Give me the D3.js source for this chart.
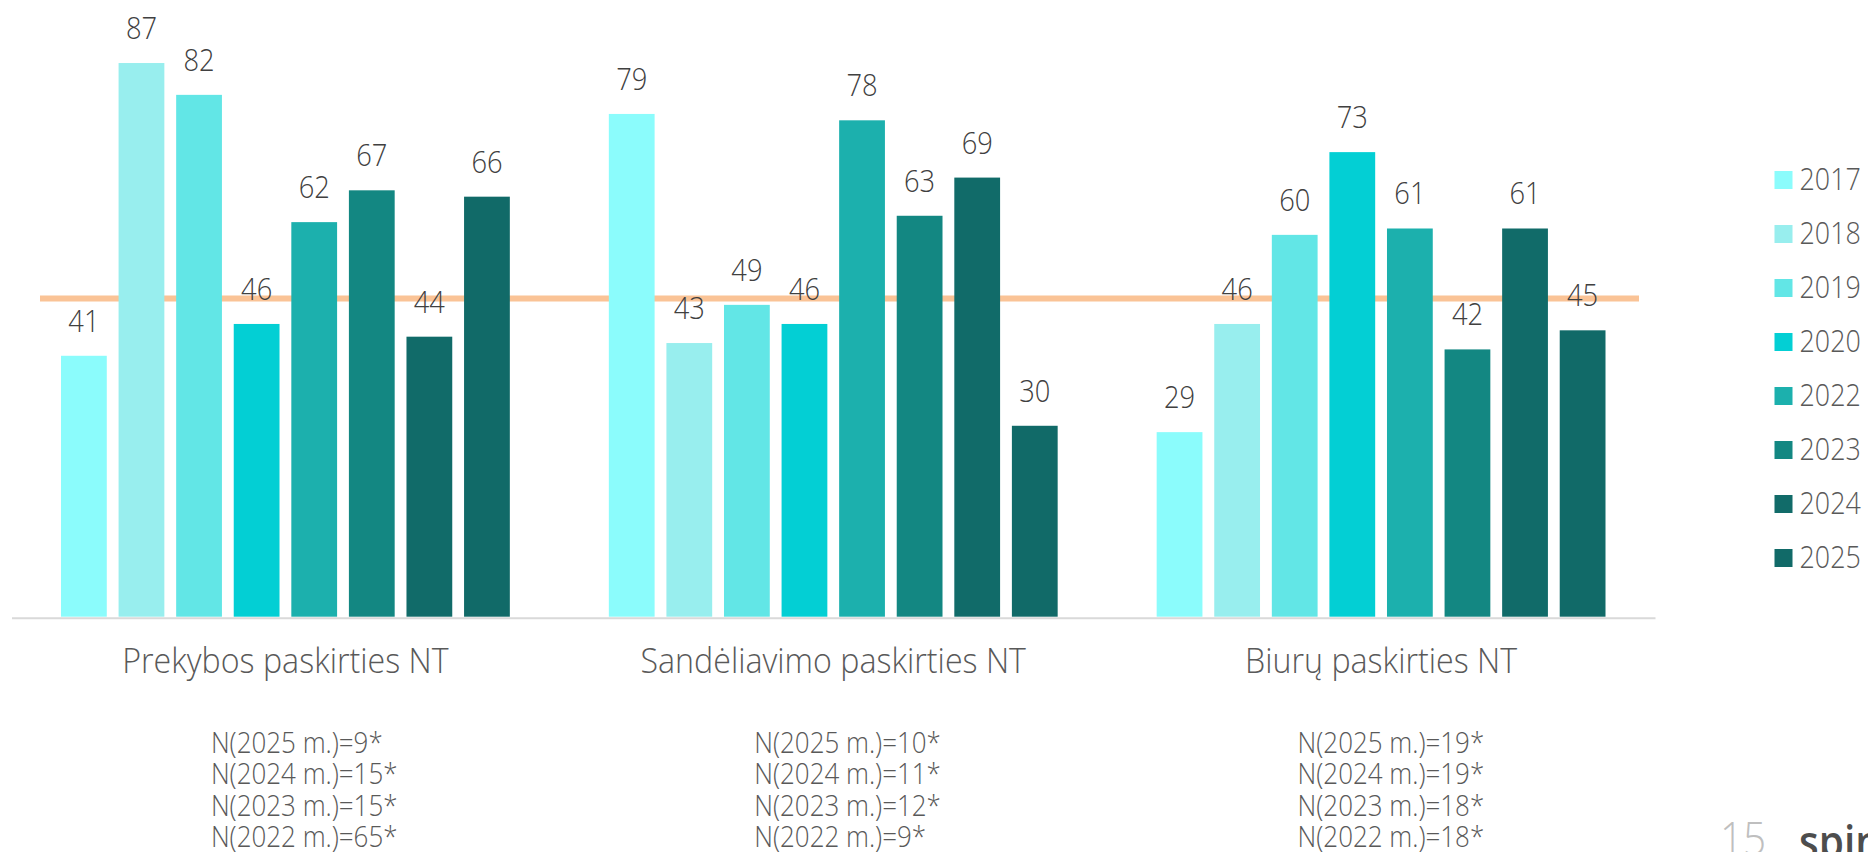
<!DOCTYPE html>
<html lang="lt">
<head>
    <meta charset="UTF-8">
    <title>NT paskirties grupės</title>
    <style>
        body {
            margin: 0;
            background: #fff;
            overflow: hidden;
        }
        svg {
            display: block;
            font-family: "Open Sans", "Noto Sans", sans-serif;
            font-weight: 300;
        }
    </style>
    <script src="https://cdn.jsdelivr.net/npm/d3@7"></script>
</head>
<body>
    <svg id="chart"></svg>

    <script>
        // data
        const groups = ["Prekybos paskirties NT", "Sandėliavimo paskirties NT", "Biurų paskirties NT"];
        const years = ["2017", "2018", "2019", "2020", "2022", "2023", "2024", "2025"];
        const values2017 = [41, 79, 29];
        const values2018 = [87, 43, 46];
        const values2019 = [82, 49, 60];
        const values2020 = [46, 46, 73];
        const values2022 = [62, 78, 61];
        const values2023 = [67, 63, 42];
        const values2024 = [44, 69, 61];
        const values2025 = [66, 30, 45];
        const notesPrekybos = ["N(2025 m.)=9*", "N(2024 m.)=15*", "N(2023 m.)=15*", "N(2022 m.)=65*"];
        const notesSandeliavimo = ["N(2025 m.)=10*", "N(2024 m.)=11*", "N(2023 m.)=12*", "N(2022 m.)=9*"];
        const notesBiuru = ["N(2025 m.)=19*", "N(2024 m.)=19*", "N(2023 m.)=18*", "N(2022 m.)=18*"];
        const referenceValue = 50;
        const pageNumber = "15";

        const seriesValues = [values2017, values2018, values2019, values2020,
                              values2022, values2023, values2024, values2025];
        const notes = [notesPrekybos, notesSandeliavimo, notesBiuru];
        const colors = ["#8bfcfc", "#98eeee", "#62e6e6", "#03cfd4",
                        "#1cb0ad", "#138782", "#116b69", "#116a68"];

        const width = 1868;
        const height = 852;
        const squeeze = 0.88;   // the slide text is a bit narrow

        const svg = d3.select("#chart")
            .attr("width", width)
            .attr("height", height);

        const x0 = d3.scaleBand()
            .domain(groups)
            .range([11.5, 1655]);

        const x1 = d3.scaleBand()
            .domain(years)
            .range([49.5, x0.bandwidth() - 49.5])
            .paddingInner(0.205);

        const y = d3.scaleLinear()
            .domain([0, 100])
            .range([616.7, -19.7]);

        const color = d3.scaleOrdinal().domain(years).range(colors);

        const rows = [];
        groups.forEach((g, gi) => {
            years.forEach((yr, yi) => {
                rows.push({group: g, year: yr, value: seriesValues[yi][gi]});
            });
        });

        // reference line sits behind the bars
        svg.append("line")
            .attr("x1", 40)
            .attr("x2", 1639)
            .attr("y1", y(referenceValue))
            .attr("y2", y(referenceValue))
            .attr("stroke", "#fac396")
            .attr("stroke-width", 6);

        svg.append("g")
            .selectAll("rect")
            .data(rows)
            .enter().append("rect")
            .attr("x", d => x0(d.group) + x1(d.year))
            .attr("y", d => y(d.value))
            .attr("width", x1.bandwidth())
            .attr("height", d => y(0) - y(d.value))
            .attr("fill", d => color(d.year));

        // baseline
        svg.append("g")
            .attr("transform", `translate(0,${y(0) + 1})`)
            .call(d3.axisBottom(x0).tickSize(0).tickFormat(""))
            .call(g => g.select(".domain").attr("stroke", "#d9d9d9").attr("stroke-width", 2));

        // value labels
        svg.append("g")
            .selectAll("text")
            .data(rows)
            .enter().append("text")
            .attr("transform", d => `translate(${x0(d.group) + x1(d.year) + x1.bandwidth() / 2},${y(d.value) - 24}) scale(${squeeze},1)`)
            .attr("text-anchor", "middle")
            .attr("font-size", 31)
            .attr("fill", "#404040")
            .text(d => d.value);

        // category names
        svg.append("g")
            .selectAll("text")
            .data(groups)
            .enter().append("text")
            .attr("transform", d => `translate(${x0(d) + x0.bandwidth() / 2},673) scale(0.92,1)`)
            .attr("text-anchor", "middle")
            .attr("font-size", 35)
            .attr("fill", "#595959")
            .text(d => d);

        // sample sizes under each category, one text block per group
        const noteShift = [-74.5, -79, -83.5];
        svg.append("g")
            .selectAll("text")
            .data(groups)
            .enter().append("text")
            .attr("transform", (d, i) => `translate(${x0(d) + x0.bandwidth() / 2 + noteShift[i]},752.5) scale(${squeeze},1)`)
            .attr("font-size", 29.5)
            .attr("fill", "#595959")
            .each(function(d, i) {
                d3.select(this).selectAll("tspan")
                    .data(notes[i])
                    .enter().append("tspan")
                    .attr("x", 0)
                    .attr("y", (t, j) => j * 31.6)
                    .text(t => t);
            });

        // legend
        const legend = svg.append("g")
            .selectAll("g")
            .data(years)
            .enter().append("g")
            .attr("transform", (d, i) => `translate(1774.5,${180 + i * 54})`);

        legend.append("rect")
            .attr("y", -9)
            .attr("width", 18)
            .attr("height", 18)
            .attr("fill", d => color(d));

        legend.append("text")
            .attr("transform", `translate(25,10) scale(${squeeze},1)`)
            .attr("font-size", 30.5)
            .attr("fill", "#595959")
            .text(d => d);

        // slide footer: page number and logo
        svg.append("text")
            .attr("transform", `translate(1720,855) scale(${squeeze},1)`)
            .attr("font-size", 46)
            .attr("fill", "#bfbfbf")
            .text(pageNumber);

        svg.append("text")
            .attr("transform", `translate(1799,858) scale(${squeeze},1)`)
            .attr("font-size", 46)
            .attr("font-weight", 600)
            .attr("fill", "#4d4d4d")
            .text("spin");
    </script>
</body>
</html>
